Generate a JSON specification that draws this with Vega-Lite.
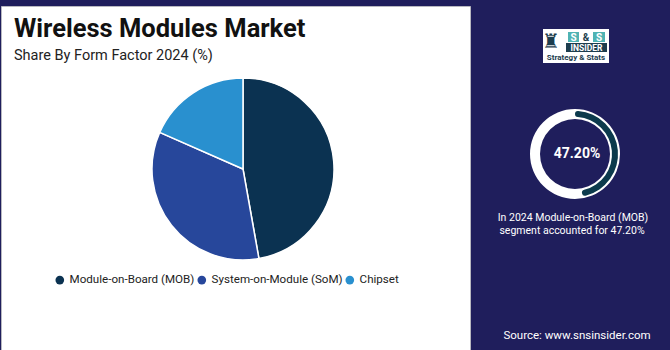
{
  "$schema": "https://vega.github.io/schema/vega-lite/v6.json",
  "background": "#1f1e5c",
  "padding": {"top": 5, "left": 0, "right": 0, "bottom": 0},
  "spacing": 0,
  "config": {"view": {"stroke": null}, "font": "Roboto, sans-serif"},
  "hconcat": [
    {
      "width": 469,
      "height": 345,
      "view": {"fill": "#ffffff", "stroke": "#b8b8c0", "strokeWidth": 1},
      "data": {"values": [
        {"form": "Module-on-Board (MOB)", "share": 47.2, "idx": 1},
        {"form": "System-on-Module (SoM)", "share": 34.4, "idx": 2},
        {"form": "Chipset", "share": 18.4, "idx": 3}
      ]},
      "layer": [
        {
          "mark": {"type": "arc", "x": 242, "y": 163, "outerRadius": 91, "stroke": "#ffffff", "strokeWidth": 1.5},
          "encoding": {
            "theta": {"field": "share", "type": "quantitative", "stack": true},
            "order": {"field": "idx", "type": "quantitative"},
            "color": {
              "field": "form", "type": "nominal",
              "scale": {"domain": ["Module-on-Board (MOB)", "System-on-Module (SoM)", "Chipset"], "range": ["#0b3251", "#27479b", "#2990cf"]},
              "legend": {"orient": "none", "legendX": 53, "legendY": 268, "direction": "horizontal", "title": null, "symbolType": "circle", "symbolSize": 75, "symbolStrokeWidth": 0, "symbolOpacity": 1, "labelFontSize": 11.6, "labelFont": "Roboto, sans-serif", "labelColor": "#222222", "labelOffset": 4, "columnPadding": 1}
            }
          }
        },
        {
          "data": {"values": [{}]},
          "mark": {"type": "text", "text": "Wireless Modules Market", "x": 13, "y": 31, "align": "left", "baseline": "alphabetic", "fontSize": 25.5, "fontWeight": "bold", "color": "#111111"},
          "encoding": {}
        },
        {
          "data": {"values": [{}]},
          "mark": {"type": "text", "text": "Share By Form Factor 2024 (%)", "x": 13, "y": 54, "align": "left", "baseline": "alphabetic", "fontSize": 14.5, "color": "#222222"},
          "encoding": {}
        },
        {
          "data": {"values": [{}]},
          "mark": {"type": "rule", "x": 13, "x2": 137, "y": 62, "y2": 62, "color": "#203f6e", "strokeWidth": 2},
          "encoding": {}
        }
      ]
    },
    {
      "width": 201,
      "height": 345,
      "view": {"fill": "#1f1e5c", "stroke": null},
      "data": {"values": [{"segment": "Module-on-Board (MOB)", "share": 47.2}]},
      "layer": [
        {"mark": {"type": "rect", "x": 72, "x2": 138, "y": 23, "y2": 57, "color": "#ffffff"}, "encoding": {}},
        {"mark": {"type": "text", "text": "♜", "x": 80, "y": 36, "fontSize": 20, "color": "#1d3d4e", "font": "DejaVu Sans"}, "encoding": {}},
        {"mark": {"type": "rect", "x": 97, "x2": 108, "y": 26, "y2": 36, "color": "#4fb3b3"}, "encoding": {}},
        {"mark": {"type": "rect", "x": 122, "x2": 134, "y": 26, "y2": 36, "color": "#4fb3b3"}, "encoding": {}},
        {"mark": {"type": "text", "text": "S", "x": 102.5, "y": 31.5, "fontSize": 10, "fontWeight": "bold", "color": "#ffffff"}, "encoding": {}},
        {"mark": {"type": "text", "text": "&", "x": 115, "y": 31.5, "fontSize": 10, "fontWeight": "bold", "color": "#1d3d4e"}, "encoding": {}},
        {"mark": {"type": "text", "text": "S", "x": 128, "y": 31.5, "fontSize": 10, "fontWeight": "bold", "color": "#ffffff"}, "encoding": {}},
        {"mark": {"type": "rect", "x": 95, "x2": 136, "y": 37, "y2": 46, "color": "#1d3d4e"}, "encoding": {}},
        {"mark": {"type": "text", "text": "INSIDER", "x": 115.5, "y": 41.5, "fontSize": 8.5, "fontWeight": "bold", "color": "#ffffff"}, "encoding": {}},
        {"mark": {"type": "text", "text": "Strategy & Stats", "x": 105, "y": 51.5, "fontSize": 8, "fontWeight": "bold", "color": "#1d3d4e"}, "encoding": {}},
        {"mark": {"type": "arc", "x": 104, "y": 148, "outerRadius": 45, "innerRadius": 35, "theta": 0, "theta2": 6.2832, "color": "#ffffff"}, "encoding": {}},
        {
          "mark": {"type": "arc", "x": 104, "y": 148, "outerRadius": 43, "innerRadius": 37, "cornerRadius": 3, "color": "#0c3a4c"},
          "encoding": {"theta": {"field": "share", "type": "quantitative", "stack": true, "scale": {"domain": [0, 100]}}}
        },
        {"mark": {"type": "text", "text": "47.20%", "x": 106, "y": 148, "fontSize": 14, "fontWeight": "bold", "color": "#ffffff"}, "encoding": {}},
        {"mark": {"type": "text", "text": "In 2024 Module-on-Board (MOB)", "x": 102, "y": 212, "fontSize": 10.5, "color": "#ffffff"}, "encoding": {}},
        {"mark": {"type": "text", "text": "segment accounted for 47.20%", "x": 101, "y": 224.5, "fontSize": 10.5, "color": "#ffffff"}, "encoding": {}},
        {"mark": {"type": "text", "text": "Source: www.snsinsider.com", "x": 106, "y": 330, "fontSize": 11.5, "color": "#ffffff"}, "encoding": {}}
      ]
    }
  ]
}
